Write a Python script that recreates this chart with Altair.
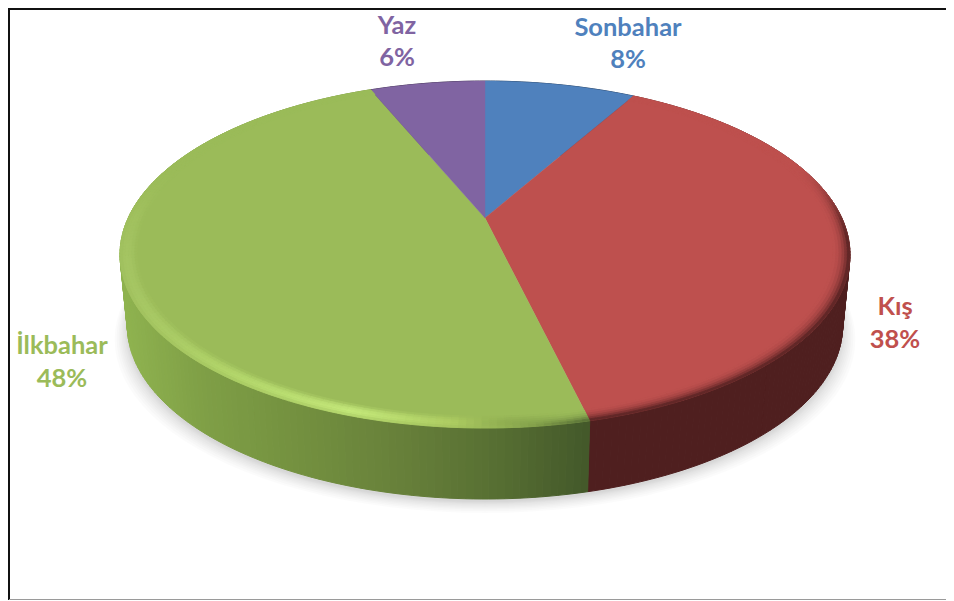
import math
import altair as alt

# ---- chart values ----
names = ["Sonbahar", "Kış", "İlkbahar", "Yaz"]
shares = [8.2, 38.05, 47.5, 6.25]
pct_labels = ["8%", "38%", "48%", "6%"]
colors = ["#4F81BD", "#BE504E", "#9BBB59", "#8064A2"]
text_colors = ["#4F81BD", "#C0504D", "#9BBB59", "#8064A2"]

# ---- geometry / style constants (page pixels) ----
CX, CY, A, B, K = 485.0, 218.0, 356.8, 165.8, 0.2105
DROP, WALL_X = 71.0, 0.98
label_x = [628, 895, 62, 397]
label_y1 = [28, 307, 346, 26]
label_y2 = [60, 340, 379, 58]


def pt(theta, r=1.0):
    u, v = r * math.sin(theta), r * math.cos(theta)
    w = 1 + K * v
    return (CX + A * u / w, CY - B * v / w)


def wall_pt(theta):
    x, y = pt(theta)
    return (CX + WALL_X * (x - CX), y + DROP)


def h2r(h):
    return [int(h[i:i + 2], 16) for i in (1, 3, 5)]


def mix(c1, c2, t):
    a, b = h2r(c1), h2r(c2)
    t = max(0.0, min(1.0, t))
    return "#%02x%02x%02x" % tuple(round(a[i] + (b[i] - a[i]) * t) for i in range(3))


def ramp(stops, x):
    if x <= stops[0][0]:
        return stops[0][1]
    for (x0, c0), (x1, c1) in zip(stops, stops[1:]):
        if x <= x1:
            return mix(c0, c1, (x - x0) / (x1 - x0))
    return stops[-1][1]


GREEN_WALL = [(121, "#8fb34f"), (200, "#7f9f46"), (300, "#73903f"), (400, "#67803a"),
              (500, "#566e32"), (590, "#43582a")]
GREEN_RIM = [(121, "#a5c563"), (220, "#b2d56a"), (350, "#c4e87a"), (450, "#aecd62"),
             (530, "#7f9c48"), (592, "#4c6230")]
RED_WALL = "#4f1f1f"


def smooth(a, b, x):
    t = max(0.0, min(1.0, (x - a) / (b - a)))
    return t * t * (3 - 2 * t)


def poly(points, color):
    ring = [list(p) for p in points] + [list(points[0])]
    return {"type": "Feature", "geometry": {"type": "Polygon", "coordinates": [ring]},
            "properties": {}, "c": color}


total = sum(shares)
edges = [0.0]
for s in shares:
    edges.append(edges[-1] + 2 * math.pi * s / total)


def steps(t0, t1, deg=1.0):
    n = max(2, int(math.degrees(t1 - t0) / deg))
    return [t0 + (t1 - t0) * i / n for i in range(n + 1)]


wall_features, top_features, rim_features = [], [], []
RIM_RADII = [0.955, 0.963, 0.971, 0.979, 0.986, 0.993, 1.0]
for i, col in enumerate(colors):
    ts = steps(edges[i], edges[i + 1])
    top_features.append(poly([(CX, CY)] + [pt(t) for t in ts], col))
    for t0, t1 in zip(ts, ts[1:]):
        xm = pt((t0 + t1) / 2)[0]
        if i == 2:
            wc = ramp(GREEN_WALL, xm)
        elif i == 1:
            wc = RED_WALL
        else:
            wc = mix(col, "#000000", 0.5)
        wall_features.append(poly([pt(t0), pt(t1), wall_pt(t1), wall_pt(t0)], wc))
        v = math.cos((t0 + t1) / 2)
        if i == 2:
            rc, w = ramp(GREEN_RIM, xm), smooth(0.35, -0.3, v)
        elif i == 1:
            rc, w = RED_WALL, smooth(0.35, -0.15, v)
        else:
            continue
        for k, (r0, r1) in enumerate(zip(RIM_RADII, RIM_RADII[1:])):
            f = (k + 0.5) / (len(RIM_RADII) - 1)
            if i == 2:
                # highlight peaks inside the bevel on the lit side, darkens to the wall on the right
                lit = 1 - smooth(470, 570, xm)
                m = lit * math.sin(f * math.pi * 0.85) + (1 - lit) * f * f
            else:
                m = f * f
            c = mix(col, rc, w * m)
            rim_features.append(poly([pt(t0, r0), pt(t1, r0), pt(t1, r1), pt(t0, r1)], c))

# soft shadow under the disc
shadow_features = []
SHADOW_GROW = [13, 11, 9, 7.5, 6, 4.5, 3, 2, 1, 0]
for g in SHADOW_GROW:
    ring = []
    for t in steps(0, 2 * math.pi, 3):
        x, y = wall_pt(t)
        ring.append((CX + (x - CX) * (1 + g / 365), y + 3 + g * 0.85))
    shadow_features.append(poly(ring[:-1], "#000000"))

frame_dark = {"type": "Feature", "properties": {},
              "geometry": {"type": "LineString",
                           "coordinates": [[9, 600], [9, 9], [946, 9]]}}
frame_gray = {"type": "Feature", "properties": {},
              "geometry": {"type": "LineString",
                           "coordinates": [[9, 599.5], [946, 599.5]]}}

PROJ = dict(type="identity", scale=1, translate=[-8, -8])


def shapes(features, width):
    return (alt.Chart(alt.Data(values=features))
            .mark_geoshape(strokeWidth=width)
            .encode(fill=alt.Color("c:N", scale=None, legend=None),
                    stroke=alt.Color("c:N", scale=None, legend=None))
            .project(**PROJ))


shadow = (alt.Chart(alt.Data(values=shadow_features))
          .mark_geoshape(fill="#000000", fillOpacity=0.014, strokeWidth=0)
          .project(**PROJ))
border1 = (alt.Chart(alt.Data(values=[frame_dark]))
           .mark_geoshape(filled=False, stroke="#111111", strokeWidth=2).project(**PROJ))
border2 = (alt.Chart(alt.Data(values=[frame_gray]))
           .mark_geoshape(filled=False, stroke="#9a9a9a", strokeWidth=1).project(**PROJ))

rows = []
for i in range(4):
    rows.append({"t": names[i], "lon": label_x[i], "lat": label_y1[i], "c": text_colors[i]})
    rows.append({"t": pct_labels[i], "lon": label_x[i], "lat": label_y2[i], "c": text_colors[i]})

labels = (alt.Chart(alt.Data(values=rows))
          .mark_text(font="Lato", fontWeight="bold", fontSize=25.5, align="center", baseline="middle")
          .encode(longitude=alt.Longitude("lon:Q"), latitude=alt.Latitude("lat:Q"),
                  text=alt.Text("t:N"), color=alt.Color("c:N", scale=None, legend=None))
          .project(**PROJ))

chart = (alt.layer(border1, border2, shadow, shapes(wall_features, 1), shapes(top_features, 0.4),
                   shapes(rim_features, 0.8), labels)
         .properties(width=938, height=592, padding=0, background="#ffffff",
                     autosize=alt.AutoSizeParams(type="none"))
         .configure_view(stroke=None))

chart.save("out.html", embed_options={"renderer": "svg", "actions": False})
